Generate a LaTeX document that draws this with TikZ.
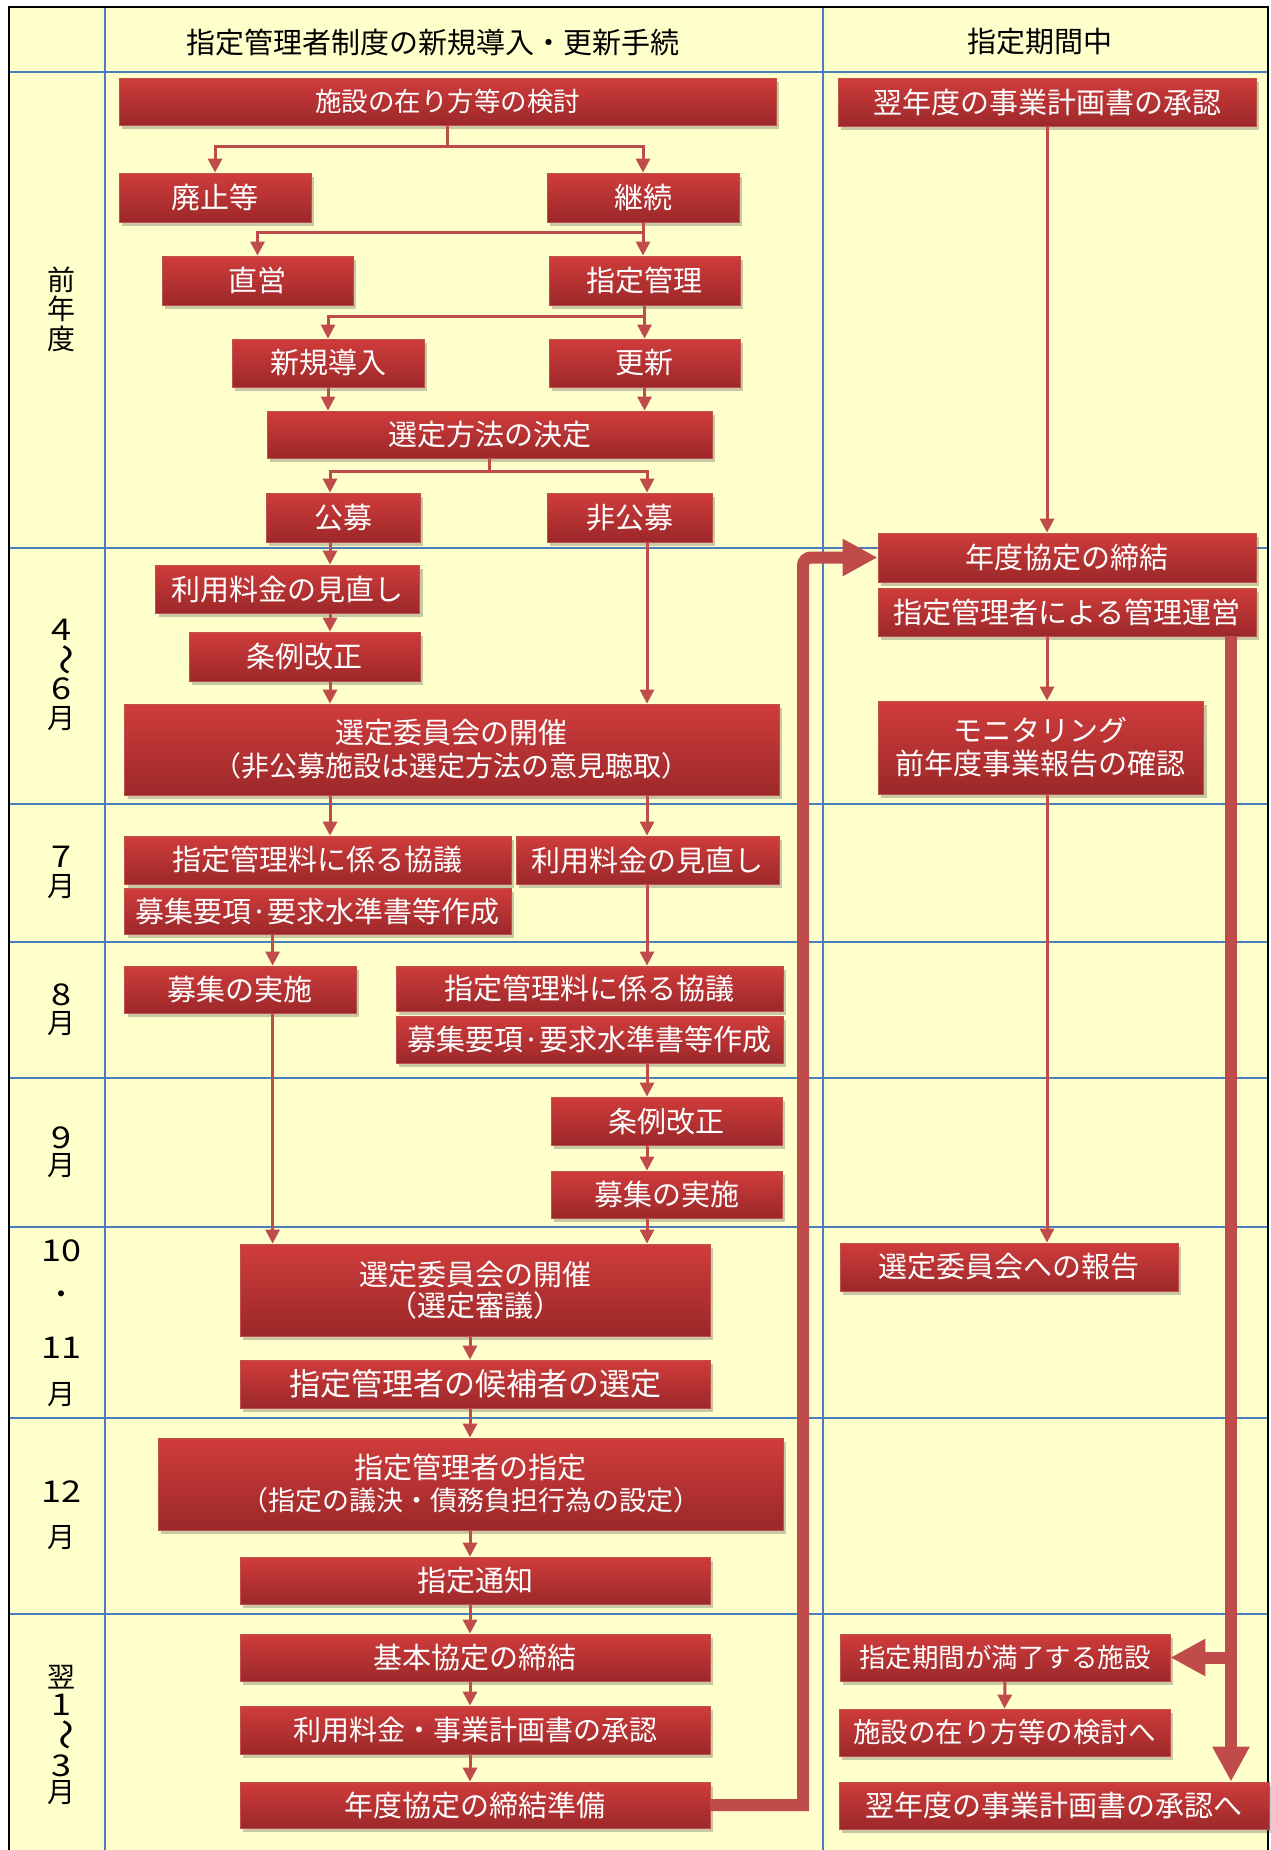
\documentclass[tikz,border=0pt]{standalone}
\usepackage{fontspec}
\setmainfont{Noto Sans CJK JP}
\usetikzlibrary{arrows.meta,shadows,calc}
\definecolor{bgyel}{HTML}{FFFFCC}
\definecolor{gridblue}{HTML}{4A7EBB}
\definecolor{boxtop}{HTML}{D03C3C}
\definecolor{boxbot}{HTML}{9C2829}
\definecolor{boxedge}{HTML}{C0504D}
\definecolor{arrowred}{HTML}{C04B4B}
\newcommand{\fs}[1]{\fontsize{#1}{#1}\selectfont}
\newcommand{\fsl}[2]{\fontsize{#1}{#2}\selectfont}
\begin{document}
\begin{tikzpicture}[x=1pt,y=-1pt,
  procbox/.style={draw=boxedge, line width=0.8pt, top color=boxtop, bottom color=boxbot,
    text=white, inner sep=0pt, align=center,
    drop shadow={shadow xshift=3pt, shadow yshift=-4pt, opacity=0.3, fill=black!70},
    font=\fs{29}},
  conn/.style={draw=arrowred, line width=3pt, -{Triangle[length=14pt,width=14pt]}},
  connplain/.style={draw=arrowred, line width=3pt},
  bigarrow/.style={draw=arrowred, line width=12pt, -{Triangle[length=35pt,width=35pt]}},
  gridline/.style={draw=gridblue, line width=1.5pt},
  monthlbl/.style={font=\fs{28}, inner sep=0pt},
  monthwave/.style={font=\fs{28}, inner sep=0pt, rotate=-90, xscale=1.1, yscale=1.5},
  monthdig/.style={font=\fs{30}, inner sep=0pt, xscale=1.2},
  hdr/.style={font=\fs{29}, inner sep=0pt}]

\useasboundingbox (0,0) rectangle (1270,1850);
\fill[white] (0,0) rectangle (1270,1850);
\fill[bgyel] (9,6.5) rectangle (1267.5,1850);

% grid
\foreach \yy in {72,548,804,942,1078,1227,1418,1614}
  \draw[gridline] (9,\yy) -- (1267.5,\yy);
\draw[gridline] (105,6.5) -- (105,1850);
\draw[gridline] (823,6.5) -- (823,1850);
\draw[line width=2pt, black] (9,1850) -- (9,6.5) -- (1267.5,6.5) -- (1267.5,1850);

% headers
\node[hdr] (hd1) at (433,42) {指定管理者制度の新規導入・更新手続};
\node[hdr] (hd2) at (1040,42) {指定期間中};

% month labels
\node[monthlbl] (m0a) at (61,280) {前};
\node[monthlbl] (m0b) at (61,309) {年};
\node[monthlbl] (m0c) at (61,339) {度};
\node[monthdig] (m1a) at (61,630) {4};
\node[monthwave] (m1b) at (61,660) {〜};
\node[monthdig] (m1c) at (61,689) {6};
\node[monthlbl] (m1d) at (61,718.5) {月};
\node[monthdig] (m2a) at (61,857) {7};
\node[monthlbl] (m2b) at (61,886.5) {月};
\node[monthdig] (m3a) at (61,995) {8};
\node[monthlbl] (m3b) at (61,1024) {月};
\node[monthdig] (m4a) at (61,1137.5) {9};
\node[monthlbl] (m4b) at (61,1166) {月};
\node[monthdig] (m5a) at (61,1251) {10};
\node[monthlbl] (m5b) at (61,1298) {・};
\node[monthdig] (m5c) at (61,1348) {11};
\node[monthlbl] (m5d) at (61,1395) {月};
\node[monthdig] (m6a) at (61,1492) {12};
\node[monthlbl] (m6b) at (61,1538) {月};
\node[monthlbl] (m7a) at (61,1677) {翌};
\node[monthdig] (m7b) at (61,1705) {1};
\node[monthwave] (m7c) at (61,1735) {〜};
\node[monthdig] (m7d) at (61,1766) {3};
\node[monthlbl] (m7e) at (61,1793) {月};

% boxes: left flow
\node[procbox, minimum width=657pt, minimum height=47pt, font=\fs{26.5}] (a1) at (447.5,101.5) {施設の在り方等の検討};
\node[procbox, minimum width=192pt, minimum height=49pt] (a2) at (215,197.5) {廃止等};
\node[procbox, minimum width=192pt, minimum height=49pt] (a3) at (643,197.5) {継続};
\node[procbox, minimum width=191pt, minimum height=49pt] (a4) at (257.5,280.5) {直営};
\node[procbox, minimum width=191pt, minimum height=49pt] (a5) at (644.5,280.5) {指定管理};
\node[procbox, minimum width=192pt, minimum height=48pt] (a6) at (328,363) {新規導入};
\node[procbox, minimum width=191pt, minimum height=48pt] (a7) at (644.5,363) {更新};
\node[procbox, minimum width=445pt, minimum height=47pt] (a8) at (489.5,434.5) {選定方法の決定};
\node[procbox, minimum width=154pt, minimum height=49pt] (a9) at (343,517.5) {公募};
\node[procbox, minimum width=165pt, minimum height=49pt] (a10) at (629.5,517.5) {非公募};

\node[procbox, minimum width=264pt, minimum height=48pt] (b1) at (287.5,589) {利用料金の見直し};
\node[procbox, minimum width=231pt, minimum height=49pt] (b2) at (304.5,656.5) {条例改正};
\node[procbox, minimum width=654.5pt, minimum height=91pt, font=\fsl{29}{33}] (b3) at (451.75,749.5) {選定委員会の開催\\\fsl{28}{33}（非公募施設は選定方法の意見聴取）};

\node[procbox, minimum width=386.5pt, minimum height=48pt] (c1) at (317.75,860) {指定管理料に係る協議};
\node[procbox, minimum width=263pt, minimum height=48pt] (c2) at (647.5,860) {利用料金の見直し};
\node[procbox, minimum width=386.5pt, minimum height=46pt] (c3) at (317.75,911) {募集要項·要求水準書等作成};

\node[procbox, minimum width=231.5pt, minimum height=47pt] (d1) at (240.25,989.5) {募集の実施};
\node[procbox, minimum width=387pt, minimum height=45pt] (d2) at (589.5,988.5) {指定管理料に係る協議};
\node[procbox, minimum width=387pt, minimum height=47pt] (d3) at (589.5,1039.5) {募集要項·要求水準書等作成};

\node[procbox, minimum width=231pt, minimum height=48pt] (e1) at (666.5,1121) {条例改正};
\node[procbox, minimum width=231pt, minimum height=47pt] (e2) at (666.5,1194.5) {募集の実施};

\node[procbox, minimum width=470pt, minimum height=92pt, font=\fsl{29}{31.5}] (f1) at (475,1290) {選定委員会の開催\\（選定審議）};
\node[procbox, minimum width=470pt, minimum height=48pt, font=\fs{31}] (f2) at (475,1384) {指定管理者の候補者の選定};

\node[procbox, minimum width=625pt, minimum height=92pt, font=\fsl{29}{32}] (g1) at (470.5,1484) {指定管理者の指定\\\fsl{27}{32}（指定の議決・債務負担行為の設定）};
\node[procbox, minimum width=470pt, minimum height=47pt] (g2) at (475,1580.5) {指定通知};

\node[procbox, minimum width=470pt, minimum height=47pt] (h1) at (475,1657.5) {基本協定の締結};
\node[procbox, minimum width=470pt, minimum height=48pt, font=\fs{28}] (h2) at (475,1730) {利用料金・事業計画書の承認};
\node[procbox, minimum width=470pt, minimum height=46pt] (h3) at (475,1805) {年度協定の締結準備};

% boxes: right column
\node[procbox, minimum width=418pt, minimum height=48pt] (r1) at (1047,102) {翌年度の事業計画書の承認};
\node[procbox, minimum width=378pt, minimum height=49pt] (r2) at (1067,557.5) {年度協定の締結};
\node[procbox, minimum width=378pt, minimum height=48pt] (r3) at (1067,612) {指定管理者による管理運営};
\node[procbox, minimum width=325.5pt, minimum height=93pt, font=\fsl{29}{33}] (r4) at (1040.75,747.5) {モニタリング\\前年度事業報告の確認};
\node[procbox, minimum width=338pt, minimum height=48pt] (r5) at (1009,1267) {選定委員会への報告};
\node[procbox, minimum width=330pt, minimum height=47pt, font=\fs{26.5}] (r6) at (1005,1657.5) {指定期間が満了する施設};
\node[procbox, minimum width=331pt, minimum height=47pt, font=\fs{27.5}] (r7) at (1004.5,1732.5) {施設の在り方等の検討へ};
\node[procbox, minimum width=430pt, minimum height=47pt] (r8) at (1054,1805.5) {翌年度の事業計画書の承認へ};

% lanes
\coordinate (L1) at (330,0);
\coordinate (L2) at (647,0);
\coordinate (L3) at (272.6,0);
\coordinate (L4) at (470,0);
\coordinate (L5) at (1047,0);
\coordinate (T1) at (803,0);
\coordinate (T2) at (1231,0);

% connectors
\coordinate (j1) at ($(a1.south)+(0,21)$);
\draw[connplain] (a1.south) -- (j1);
\draw[conn] (j1) -| (a2.north);
\draw[conn] (j1) -| (a3.north);

\coordinate (j2) at ($(a3.south)+(0,10)$);
\draw[conn] (a3.south) -- (a3.south |- a5.north);
\draw[conn] (j2) -| (a4.north);

\coordinate (j3) at ($(a5.south)+(0,11)$);
\draw[conn] (a5.south) -- (a5.south |- a7.north);
\draw[conn] (j3) -| (a6.north);

\draw[conn] (a6.south) -- (a6.south |- a8.north);
\draw[conn] (a7.south) -- (a7.south |- a8.north);

\coordinate (j4) at ($(a8.south)+(0,13)$);
\draw[connplain] (a8.south) -- (j4);
\draw[conn] (j4) -| (a9.north -| L1);
\draw[conn] (j4) -| (a10.north -| L2);

\draw[conn] (a9.south -| L1) -- (b1.north -| L1);
\draw[conn] (b1.south -| L1) -- (b2.north -| L1);
\draw[conn] (b2.south -| L1) -- (b3.north -| L1);
\draw[conn] (a10.south -| L2) -- (b3.north -| L2);
\draw[conn] (b3.south -| L1) -- (c1.north -| L1);
\draw[conn] (b3.south -| L2) -- (c2.north -| L2);
\draw[conn] (c3.south -| L3) -- (d1.north -| L3);
\draw[conn] (c2.south -| L2) -- (d2.north -| L2);
\draw[conn] (d3.south -| L2) -- (e1.north -| L2);
\draw[conn] (e1.south -| L2) -- (e2.north -| L2);
\draw[conn] (e2.south -| L2) -- (f1.north -| L2);
\draw[conn] (d1.south -| L3) -- (f1.north -| L3);

\draw[conn] (f1.south -| L4) -- (f2.north -| L4);
\draw[conn] (f2.south -| L4) -- (g1.north -| L4);
\draw[conn] (g1.south -| L4) -- (g2.north -| L4);
\draw[conn] (g2.south -| L4) -- (h1.north -| L4);
\draw[conn] (h1.south -| L4) -- (h2.north -| L4);
\draw[conn] (h2.south -| L4) -- (h3.north -| L4);

\draw[conn] (r1.south -| L5) -- (r2.north -| L5);
\draw[conn] (r3.south -| L5) -- (r4.north -| L5);
\draw[conn] (r4.south -| L5) -- (r5.north -| L5);
\draw[conn] (r6.south) -- (r7.north);

% thick arrows
\draw[bigarrow] (h3.east) -- (T1 |- h3.east) [rounded corners=8pt] -- (T1 |- r2.west) -- (r2.west);
\draw[bigarrow] (r3.south -| T2) -- (r8.north -| T2);
\draw[bigarrow] (T2 |- r6.east) -- (r6.east);

\end{tikzpicture}
\end{document}
